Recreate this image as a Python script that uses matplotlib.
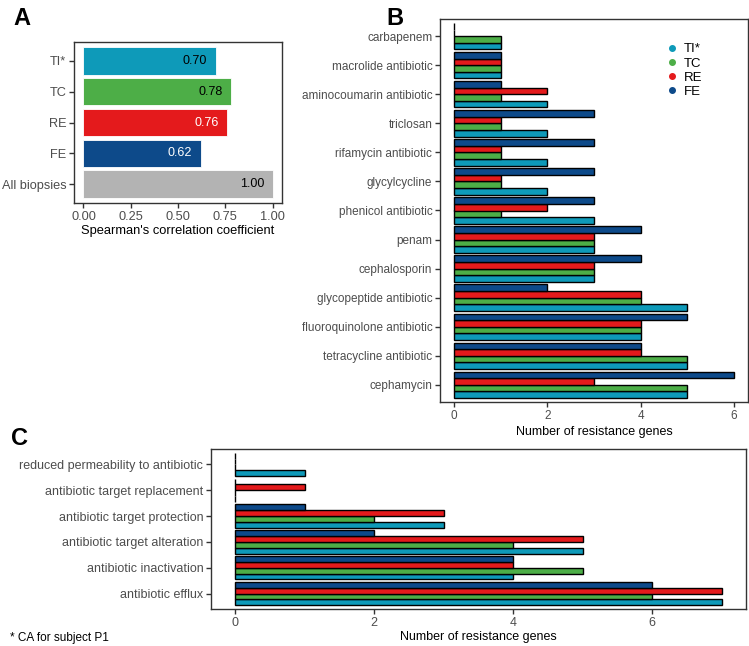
import matplotlib
matplotlib.use("Agg")
import matplotlib.pyplot as plt
import numpy as np
from matplotlib.lines import Line2D

plt.rcParams['font.family'] = ['Liberation Sans', 'DejaVu Sans']

# ---------------- data ----------------
groups = ["TI*", "TC", "RE", "FE"]
colors = {"TI*": "#0E9AB9", "TC": "#4DAE47", "RE": "#E41A1C", "FE": "#0D4A8A"}

# Panel A
corr_labels = ["All biopsies", "FE", "RE", "TC", "TI*"]
corr_values = [1.00, 0.62, 0.76, 0.78, 0.70]
corr_colors = ["#B3B3B3", colors["FE"], colors["RE"], colors["TC"], colors["TI*"]]
corr_text_colors = ["black", "white", "white", "black", "black"]

# Panel B (bottom to top)
drug_classes = ["cephamycin", "tetracycline antibiotic", "fluoroquinolone antibiotic",
                "glycopeptide antibiotic", "cephalosporin", "penam", "phenicol antibiotic",
                "glycylcycline", "rifamycin antibiotic", "triclosan",
                "aminocoumarin antibiotic", "macrolide antibiotic", "carbapenem"]
drug_TI = [5, 5, 4, 5, 3, 3, 3, 2, 2, 2, 2, 1, 1]
drug_TC = [5, 5, 4, 4, 3, 3, 1, 1, 1, 1, 1, 1, 1]
drug_RE = [3, 4, 4, 4, 3, 3, 2, 1, 1, 1, 2, 1, 0]
drug_FE = [6, 4, 5, 2, 4, 4, 3, 3, 3, 3, 1, 1, 0]

# Panel C (bottom to top)
mechanisms = ["antibiotic efflux", "antibiotic inactivation", "antibiotic target alteration",
              "antibiotic target protection", "antibiotic target replacement",
              "reduced permeability to antibiotic"]
mech_TI = [7, 4, 5, 3, 0, 1]
mech_TC = [6, 5, 4, 2, 0, 0]
mech_RE = [7, 4, 5, 3, 1, 0]
mech_FE = [6, 4, 2, 1, 0, 0]

# ---------------- layout ----------------
W, H = 749, 646
fig = plt.figure(figsize=(W / 100, H / 100), dpi=100)

def ax_px(l, t, r, b):
    return fig.add_axes([l / W, 1 - b / H, (r - l) / W, (b - t) / H])

SPINE = "#333333"
TICKLAB = "#4D4D4D"

def style(ax, fs):
    for s in ax.spines.values():
        s.set_color(SPINE)
        s.set_linewidth(1.0)
    ax.tick_params(axis='both', colors=SPINE, labelcolor=TICKLAB, labelsize=fs,
                   length=3.5, width=1.0, pad=2)

# ---- Panel A ----
axA = ax_px(74, 42, 282, 203)
ya = np.arange(len(corr_labels))
axA.barh(ya, corr_values, height=0.9, color=corr_colors, edgecolor="white", linewidth=0.6)
for y, v, tc in zip(ya, corr_values, corr_text_colors):
    axA.text(v - 0.045, y, f"{v:.2f}", ha='right', va='center', fontsize=9, color=tc)
axA.set_yticks(ya)
axA.set_yticklabels(corr_labels)
axA.set_xlim(-0.05, 1.05)
axA.set_ylim(-0.6, len(corr_labels) - 0.4)
axA.set_xticks([0, 0.25, 0.5, 0.75, 1.0])
axA.set_xticklabels(["0.00", "0.25", "0.50", "0.75", "1.00"])
axA.set_xlabel("Spearman's correlation coefficient", fontsize=9.3, labelpad=2)
style(axA, 9.2)

# ---- grouped bars helper ----
def grouped(ax, cats, series):
    y = np.arange(len(cats))
    h = 0.225
    offs = [-0.3375, -0.1125, 0.1125, 0.3375]
    for g, vals, o in zip(groups, series, offs):
        ax.barh(y + o, vals, height=h, color=colors[g], edgecolor="black", linewidth=1.0)
    ax.set_yticks(y)
    ax.set_yticklabels(cats)
    ax.set_ylim(-0.6, len(cats) - 0.4)

# ---- Panel B ----
axB = ax_px(440, 19, 748, 402)
grouped(axB, drug_classes, [drug_TI, drug_TC, drug_RE, drug_FE])
axB.set_xlim(-0.3, 6.3)
axB.set_xticks([0, 2, 4, 6])
axB.set_xlabel("Number of resistance genes", fontsize=9, labelpad=3)
style(axB, 8.5)
handles = [Line2D([], [], marker='o', linestyle='none', markersize=4,
                  markerfacecolor=colors[g], markeredgecolor=colors[g]) for g in groups]
axB.legend(handles, groups, loc='upper left', bbox_to_anchor=(0.69, 0.968), frameon=False,
           fontsize=9.5, handletextpad=0.3, labelspacing=0.15, handlelength=1.2)

# ---- Panel C ----
axC = ax_px(211, 449, 746, 609)
grouped(axC, mechanisms, [mech_TI, mech_TC, mech_RE, mech_FE])
axC.set_xlim(-0.35, 7.35)
axC.set_xticks([0, 2, 4, 6])
axC.set_xlabel("Number of resistance genes", fontsize=9, labelpad=2)
style(axC, 9)

# ---- panel letters & footnote ----
fig.text(13 / W, 1 - 25 / H, "A", fontsize=17, fontweight='bold')
fig.text(386 / W, 1 - 25 / H, "B", fontsize=17, fontweight='bold')
fig.text(11 / W, 1 - 445 / H, "C", fontsize=17, fontweight='bold')
fig.text(10 / W, 1 - 641 / H, "* CA for subject P1", fontsize=8.5, color="black")

fig.savefig("out.png", dpi=100)
